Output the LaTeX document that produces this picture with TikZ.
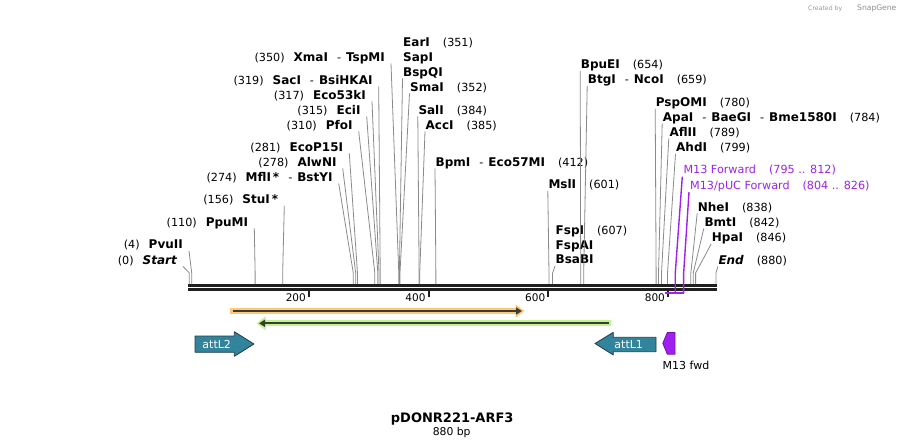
\documentclass[tikz,border=0pt]{standalone}
\usepackage{fontspec}
\setmainfont{DejaVu Sans}
\usetikzlibrary{arrows.meta}
\definecolor{cutgray}{RGB}{138,138,138}
\definecolor{primer}{RGB}{160,32,240}
\definecolor{primedge}{RGB}{110,20,170}
\definecolor{attteal}{RGB}{49,132,155}
\definecolor{attedge}{RGB}{35,60,70}
\definecolor{orfhalo}{RGB}{255,200,120}
\definecolor{revhalo}{RGB}{190,245,140}
\definecolor{featline}{RGB}{60,60,55}
\newcommand{\sitepos}[1]{{\mdseries\fontsize{11.2}{13}\selectfont(#1)}}
\newcommand{\enzdash}{\hspace{9pt}{\mdseries\fontsize{11.2}{13}\selectfont-}\hspace{5pt}}
\newcommand{\numgap}{\hspace{13pt}}
\tikzset{
  enz/.style={inner sep=0pt, font=\bfseries\fontsize{12}{14}\selectfont},
  cut/.style={draw=cutgray, line width=0.8pt},
  prim/.style={inner sep=0pt, text=primer, font=\fontsize{11.2}{13}\selectfont},
  primcut/.style={draw=primer, line width=1.4pt},
  axisline/.style={line width=3pt, draw=black!88},
  tickmark/.style={line width=2pt, draw=black!88},
  ticklabel/.style={inner sep=0pt, anchor=base east, font=\fontsize{10.5}{12}\selectfont},
  att/.style={fill=attteal, draw=attedge, line width=0.8pt},
  attlabel/.style={inner sep=0pt, anchor=base, text=white, font=\fontsize{11}{13}\selectfont},
}
\begin{document}
\begin{tikzpicture}[x=1pt, y=-1pt, line join=round]
\useasboundingbox (0,0) rectangle (905,447);
\def\xo{189.3}\def\xs{0.5985}
\coordinate (bendline) at (0,273);
% backbone and ruler
\draw[axisline] (188,285) -- (717,285);
\draw[axisline] (188,289.7) -- (717,289.7);
\foreach \t in {200,400,600,800}{
  \draw[tickmark] ({\xo+\xs*\t},291) -- ++(0,6);
  \node[ticklabel] (tk\t) at ({\xo+\xs*\t-3},301) {\t};
}
% enzymes, labels to the left
\foreach \bp/\lx/\ly/\txt [count=\k] in {
  350/385/57/{\sitepos{350}\hspace{9pt}XmaI\enzdash TspMI},
  319/372.7/80/{\sitepos{319}\hspace{9pt}SacI\enzdash BsiHKAI},
  317/366/95/{\sitepos{317}\hspace{9pt}Eco53kI},
  315/360.7/110/{\sitepos{315}\hspace{9pt}EciI},
  310/352.7/125/{\sitepos{310}\hspace{9pt}PfoI},
  281/343.3/147/{\sitepos{281}\hspace{9pt}EcoP15I},
  278/336.7/162/{\sitepos{278}\hspace{9pt}AlwNI},
  274/332.7/177/{\sitepos{274}\hspace{9pt}MflI\hspace{2pt}*\enzdash BstYI},
  156/278.3/199.5/{\sitepos{156}\hspace{9pt}StuI\hspace{2pt}*},
  110/248.3/222/{\sitepos{110}\hspace{9pt}PpuMI},
  4/183/244.5/{\sitepos{4}\hspace{9pt}PvuII},
  0/177/260/{\sitepos{0}\hspace{9pt}{\itshape Start}}}{
  \coordinate (sl\k) at ({\xo+\xs*\bp},284);
  \node[enz, anchor=base east] (L\k) at (\lx,{\ly+4.4}) {\txt};
  \draw[cut] ([shift={(6,2)}]L\k.base east) -- (sl\k |- bendline) -- (sl\k);
}
% enzymes, labels to the right
\node[enz, anchor=base west] (EarI) at (403,46.9) {EarI\numgap\sitepos{351}};
\node[enz, anchor=base west] (SapI) at (403,61.4) {SapI};
\node[enz, anchor=base west] (FspI) at (555.5,234.4) {FspI\numgap\sitepos{607}};
\node[enz, anchor=base west] (FspAI) at (555.5,249.4) {FspAI};
\foreach \bp/\lx/\ly/\txt [count=\k] in {
  351/403/72/{BspQI},
  352/410/87/{SmaI\numgap\sitepos{352}},
  384/418.3/110/{SalI\numgap\sitepos{384}},
  385/425.5/125/{AccI\numgap\sitepos{385}},
  412/435.5/162/{BpmI\enzdash Eco57MI\numgap\sitepos{412}},
  601/548.3/184.5/{MslI\numgap\sitepos{601}},
  607/555.5/259.5/{BsaBI},
  654/580.7/64.5/{BpuEI\numgap\sitepos{654}},
  659/587.7/79.5/{BtgI\enzdash NcoI\numgap\sitepos{659}},
  780/655.7/102.5/{PspOMI\numgap\sitepos{780}},
  784/662.7/117/{ApaI\enzdash BaeGI\enzdash Bme1580I\numgap\sitepos{784}},
  789/669.3/132/{AflII\numgap\sitepos{789}},
  799/676/147.5/{AhdI\numgap\sitepos{799}},
  838/697.7/207/{NheI\numgap\sitepos{838}},
  842/704.3/222/{BmtI\numgap\sitepos{842}},
  846/711.7/237.5/{HpaI\numgap\sitepos{846}},
  880/718.3/260/{{\itshape End}\numgap\sitepos{880}}}{
  \coordinate (sr\k) at ({\xo+\xs*\bp},284);
  \node[enz, anchor=base west] (R\k) at (\lx,{\ly+4.4}) {\txt};
  \draw[cut] ([shift={(-0.5,2)}]R\k.base west) -- (sr\k |- bendline) -- (sr\k);
}
% primers
\coordinate (m13a) at ({\xo+\xs*795},293);
\coordinate (m13b) at ({\xo+\xs*812},293);
\coordinate (pucA) at ({\xo+\xs*804},293);
\coordinate (pucB) at ({\xo+\xs*826},293);
\draw[primcut, line width=2pt] (m13a) -- (m13b);
\draw[primcut, line width=2pt] (pucA) -- (pucB);
\node[prim, anchor=base west] (m13lab) at (683.3,173.6) {M13 Forward\numgap(795 .. 812)};
\node[prim, anchor=base west] (puclab) at (690,189.1) {M13/pUC Forward\numgap(804 .. 826)};
\draw[primcut] ([shift={(-1,3)}]m13lab.base west) -- (m13b |- bendline) -- (m13b);
\draw[primcut] ([shift={(-1,3)}]puclab.base west) -- (pucB |- bendline) -- (pucB);
% features
\draw[line width=6pt, draw=orfhalo, -{Triangle[length=9pt,width=13pt]}] (229.5,311) -- (524.5,311);
\draw[line width=1.8pt, draw=featline, -{Triangle[length=6pt,width=7pt]}] (232.5,311) -- (522,311);
\draw[line width=6pt, draw=revhalo, {Triangle[length=9pt,width=13pt]}-] (256.5,323.3) -- (611,323.3);
\draw[line width=1.8pt, draw=featline, {Triangle[length=6pt,width=7pt]}-] (259,323.3) -- (608.5,323.3);
\draw[att] (195,336) -- (234.3,336) -- (234.3,331.7) -- (254,344) -- (234.3,356.3) -- (234.3,352.3) -- (195,352.3) -- cycle;
\node[attlabel] (attL2) at (216.7,348.3) {attL2};
\draw[att] (595,343.5) -- (613.3,332.3) -- (613.3,337.3) -- (656,337.3) -- (656,351.7) -- (613.3,351.7) -- (613.3,355) -- cycle;
\node[attlabel] (attL1) at (628.7,348.3) {attL1};
\draw[fill=primer, draw=primedge, line width=0.8pt] (662.8,343.3) -- (667.3,332.5) -- (675,332.5) -- (675,354.2) -- (667.3,354.2) -- cycle;
\node[inner sep=0pt, anchor=base west, font=\fontsize{11}{13}\selectfont] (m13fwd) at (662.5,369.5) {M13 fwd};
% title
\node[inner sep=0pt, anchor=base, font=\bfseries\fontsize{13}{15}\selectfont] (title) at (452.2,422.7) {pDONR221-ARF3};
\node[inner sep=0pt, anchor=base, font=\fontsize{10.8}{13}\selectfont] (size) at (451.7,435.7) {880 bp};
\node[inner sep=0pt, anchor=base west, text=black!40, font=\fontsize{6.2}{8}\selectfont] (made) at (808,10) {Created by};
\node[inner sep=0pt, anchor=base west, text=black!45, font=\fontsize{7.6}{9}\selectfont] (brand) at (857,10.5) {SnapGene};
\end{tikzpicture}
\end{document}
